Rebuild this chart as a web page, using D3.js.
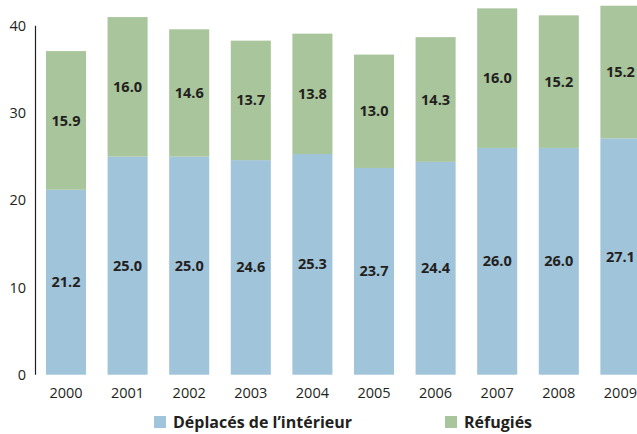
<!DOCTYPE html>
<html lang="fr">
<head>
    <meta charset="UTF-8">
    <title>Déplacés et réfugiés</title>
    <script src="https://d3js.org/d3.v7.min.js"></script>
    <style>
        body { margin: 0; background: #fff; }
        svg { display: block; font-family: "Open Sans", "Noto Sans", sans-serif; }
        .tick-label { font-size: 14.5px; fill: #231f20; }
        .val { font-size: 14.5px; font-weight: bold; fill: #231f20; }
        .legend text { font-size: 16px; font-weight: bold; fill: #231f20; }
    </style>
</head>
<body>
<svg id="main" width="637" height="434"></svg>
<script>
    let years = ['2000','2001','2002','2003','2004','2005','2006','2007','2008','2009'];
    let deplaces = [21.2, 25.0, 25.0, 24.6, 25.3, 23.7, 24.4, 26.0, 26.0, 27.1];
    let refugies = [15.9, 16.0, 14.6, 13.7, 13.8, 13.0, 14.3, 16.0, 15.2, 15.2];
    let yTicks = [0, 10, 20, 30, 40];
    let seriesNames = ['Déplacés de l\u2019intérieur', 'Réfugiés'];
    let colors = ['#a0c4da', '#a9c59b'];

    let svg = d3.select('#main');

    let data = years.map(function(y, i){
        return {year: y, d: deplaces[i], r: refugies[i]};
    });
    let stack = d3.stack().keys(['d', 'r']);
    let series = stack(data);

    let xScale = d3.scaleBand()
        .domain(years)
        .range([35.2, 651.2])
        .paddingInner(0.35)
        .paddingOuter(0.175);
    let yScale = d3.scaleLinear().domain([0, 40]).range([374.7, 25.8]);

    // axe vertical
    svg.append('line')
        .attr('x1', 35.5).attr('x2', 35.5)
        .attr('y1', yScale(40)).attr('y2', yScale(0))
        .attr('stroke', '#231f20').attr('stroke-width', 1.2);

    svg.selectAll('.ytick')
        .data(yTicks)
        .enter()
        .append('text')
        .attr('class', 'tick-label')
        .attr('x', 26)
        .attr('y', function(d){ return yScale(d); })
        .attr('dy', '0.35em')
        .attr('text-anchor', 'end')
        .text(function(d){ return d; });

    let groups = svg.selectAll('g.series')
        .data(series)
        .enter()
        .append('g')
        .attr('class', 'series')
        .style('fill', function(d, i){ return colors[i]; });

    groups.selectAll('rect')
        .data(function(d){ return d; })
        .enter()
        .append('rect')
        .attr('x', function(d){ return xScale(d.data.year); })
        .attr('width', xScale.bandwidth())
        .attr('y', function(d){ return yScale(d[1]); })
        .attr('height', function(d){ return yScale(d[0]) - yScale(d[1]); });

    groups.selectAll('text')
        .data(function(d){ return d; })
        .enter()
        .append('text')
        .attr('class', 'val')
        .attr('x', function(d){ return xScale(d.data.year) + xScale.bandwidth() / 2; })
        .attr('y', function(d){ return (yScale(d[0]) + yScale(d[1])) / 2; })
        .attr('dy', '0.35em')
        .attr('text-anchor', 'middle')
        .text(function(d){ return (d[1] - d[0]).toFixed(1); });

    svg.selectAll('.xlabel')
        .data(years)
        .enter()
        .append('text')
        .attr('class', 'tick-label')
        .attr('x', function(d){ return xScale(d) + xScale.bandwidth() / 2; })
        .attr('y', 393)
        .attr('dy', '0.35em')
        .attr('text-anchor', 'middle')
        .text(function(d){ return d; });

    // légende
    let legendX = [154, 445];
    let legend = svg.append('g').attr('class', 'legend');
    seriesNames.forEach(function(name, i){
        legend.append('rect')
            .attr('x', legendX[i]).attr('y', 416)
            .attr('width', 12).attr('height', 12)
            .attr('fill', colors[i]);
        legend.append('text')
            .attr('x', legendX[i] + 19).attr('y', 422)
            .attr('dy', '0.35em')
            .text(name);
    });
</script>
</body>
</html>
